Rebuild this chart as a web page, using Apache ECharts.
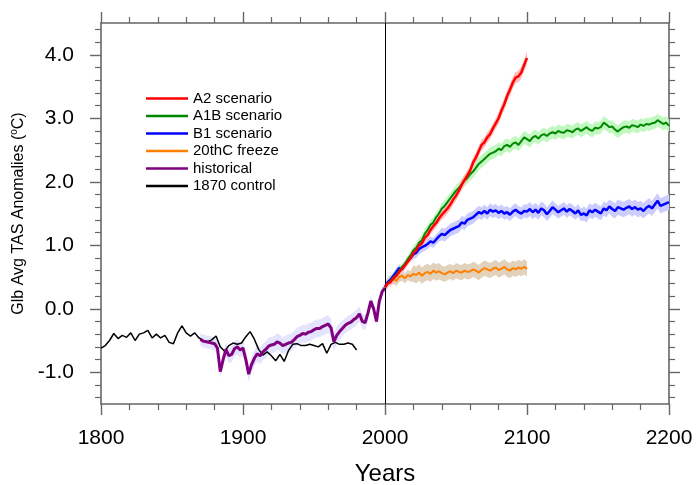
<!DOCTYPE html>
<html>
<head>
<meta charset="utf-8">
<script src="https://cdn.jsdelivr.net/npm/echarts@6/dist/echarts.min.js"></script>
<style>html,body{margin:0;padding:0;background:#fff}#c{width:697px;height:485px}</style>
</head>
<body>
<div id="c"></div>
<script>
// ---- data ----
const xTicks = [1800, 1900, 2000, 2100, 2200];
const yTicks = [-1.0, 0.0, 1.0, 2.0, 3.0, 4.0];
const yMinorTicks = [-1.4,-1.2,-0.8,-0.6,-0.4,-0.2,0.2,0.4,0.6,0.8,1.2,1.4,1.6,1.8,2.2,2.4,2.6,2.8,3.2,3.4,3.6,3.8,4.2,4.4];
const seriesNames = ['A2 scenario', 'A1B scenario', 'B1 scenario', '20thC freeze', 'historical', '1870 control'];

const controlStart = 1800, controlStep = 3;
const controlValues = [-0.62,-0.58,-0.50,-0.39,-0.47,-0.42,-0.45,-0.38,-0.50,-0.40,-0.38,-0.34,-0.46,-0.40,-0.46,-0.42,-0.53,-0.55,-0.38,-0.27,
  -0.38,-0.43,-0.38,-0.46,-0.50,-0.52,-0.49,-0.43,-0.60,-0.67,-0.58,-0.54,-0.56,-0.54,-0.44,-0.36,-0.48,-0.64,-0.73,-0.68,
  -0.74,-0.82,-0.72,-0.83,-0.66,-0.56,-0.55,-0.58,-0.58,-0.56,-0.58,-0.60,-0.55,-0.70,-0.56,-0.53,-0.56,-0.56,-0.54,-0.56,-0.65];

const histStart = 1870, histStep = 2;
const histValues = [-0.48,-0.51,-0.52,-0.53,-0.54,-0.55,-0.62,-0.99,-0.80,-0.64,-0.74,-0.72,-0.63,-0.60,-0.65,-0.62,-0.80,-1.03,-0.88,-0.78,
  -0.71,-0.74,-0.68,-0.64,-0.59,-0.57,-0.56,-0.52,-0.54,-0.58,-0.56,-0.54,-0.53,-0.49,-0.44,-0.42,-0.39,-0.40,-0.37,-0.36,
  -0.33,-0.31,-0.31,-0.28,-0.26,-0.24,-0.30,-0.52,-0.42,-0.36,-0.31,-0.26,-0.23,-0.21,-0.17,-0.14,-0.08,-0.20,-0.22,-0.07,
  0.12,0.00,-0.20,0.12,0.27,0.33];

const projStart = 2000, projStep = 2;
const a2Values = [0.34,0.40,0.42,0.48,0.52,0.58,0.63,0.68,0.74,0.80,0.88,0.92,1.00,1.03,1.12,1.16,1.24,1.30,1.35,1.42,
  1.48,1.53,1.58,1.64,1.72,1.78,1.86,1.95,2.03,2.10,2.18,2.30,2.38,2.48,2.58,2.62,2.70,2.75,2.84,2.92,
  3.00,3.12,3.22,3.35,3.45,3.56,3.64,3.66,3.72,3.84,3.95];
const a1bValues = [0.34,0.40,0.44,0.50,0.53,0.60,0.66,0.70,0.78,0.84,0.92,0.96,1.04,1.08,1.18,1.24,1.32,1.36,1.44,1.50,
  1.58,1.62,1.68,1.74,1.80,1.86,1.90,1.96,2.02,2.06,2.12,2.16,2.22,2.28,2.32,2.36,2.40,2.44,2.46,2.48,
  2.52,2.50,2.56,2.58,2.55,2.60,2.62,2.58,2.64,2.70,2.67,2.64,2.70,2.72,2.68,2.73,2.75,2.72,2.76,2.78,
  2.76,2.80,2.78,2.77,2.81,2.80,2.78,2.82,2.84,2.80,2.83,2.86,2.82,2.80,2.85,2.84,2.86,2.93,2.90,2.86,
  2.87,2.82,2.79,2.83,2.86,2.87,2.85,2.89,2.88,2.86,2.90,2.88,2.91,2.90,2.92,2.93,2.97,2.94,2.91,2.93,2.88];
const b1Values = [0.34,0.42,0.46,0.52,0.58,0.64,0.62,0.70,0.76,0.80,0.86,0.88,0.94,0.97,0.99,1.02,1.06,1.04,1.09,1.14,
  1.18,1.16,1.20,1.24,1.26,1.28,1.30,1.36,1.34,1.40,1.42,1.44,1.48,1.52,1.50,1.54,1.50,1.56,1.53,1.55,
  1.51,1.54,1.50,1.52,1.48,1.53,1.56,1.52,1.50,1.54,1.53,1.57,1.52,1.56,1.51,1.58,1.55,1.49,1.54,1.60,
  1.56,1.52,1.55,1.58,1.53,1.57,1.54,1.50,1.55,1.48,1.50,1.47,1.55,1.52,1.56,1.53,1.50,1.58,1.55,1.61,
  1.57,1.54,1.60,1.58,1.56,1.59,1.61,1.57,1.60,1.56,1.58,1.54,1.59,1.62,1.58,1.64,1.70,1.62,1.64,1.66,1.68];
const freezeValues = [0.34,0.42,0.45,0.47,0.44,0.50,0.52,0.48,0.53,0.51,0.55,0.53,0.57,0.52,0.56,0.58,0.55,0.60,0.57,0.59,
  0.56,0.54,0.57,0.59,0.56,0.60,0.58,0.57,0.60,0.58,0.59,0.62,0.60,0.57,0.61,0.64,0.62,0.60,0.63,0.65,
  0.61,0.63,0.66,0.62,0.60,0.64,0.62,0.65,0.63,0.66,0.63];

// ensemble spread (half width of shading), one value per 20 years
const spreadStep = 20;
const a2Spread = [0.06,0.07,0.08,0.08,0.09,0.10];
const a1bSpread = [0.06,0.08,0.09,0.10,0.10,0.10,0.10,0.10,0.10,0.10,0.10];
const b1Spread = [0.06,0.08,0.10,0.10,0.10,0.11,0.10,0.11,0.12,0.12,0.13];
const freezeSpread = [0.08,0.13,0.12,0.12,0.12,0.12];
const histSpread = [0.10,0.12,0.13,0.14,0.14,0.12,0.08];

// ---- build ----
const FONT = 'Liberation Sans';
function pairs(start, step, vals) { return vals.map((v, i) => [start + i * step, v]); }
function bandPoly(start, step, vals, spread) {
  const up = [], lo = [];
  vals.forEach((v, i) => {
    const s = spread[Math.min(spread.length - 1, Math.floor(i * step / spreadStep))];
    up.push([start + i * step, v + s]);
    lo.push([start + i * step, v - s]);
  });
  return up.concat(lo.reverse());
}
function bandSeries(poly, color) {
  return {
    type: 'custom', silent: true, z: 1,
    data: [poly[0]],
    renderItem: function (params, api) {
      return { type: 'polygon', shape: { points: poly.map(p => api.coord(p)) }, style: { fill: color } };
    }
  };
}
function lineSeries(name, data, color, width, z) {
  return { name: name, type: 'line', data: data, symbol: 'none', showSymbol: false, z: z,
    lineStyle: { color: color, width: width }, itemStyle: { color: color } };
}

const axisCol = '#666';
function xAx(pos, labels) {
  return { type: 'value', position: pos, min: xTicks[0], max: xTicks[xTicks.length - 1], interval: 100,
    axisLine: { show: true, onZero: false, lineStyle: { color: axisCol, width: 1.6 } },
    axisTick: { show: true, inside: false, length: 11, lineStyle: { color: axisCol, width: 1.4 } },
    minorTick: { show: true, splitNumber: 5, length: 6, lineStyle: { color: axisCol, width: 1.2 } },
    splitLine: { show: false }, minorSplitLine: { show: false },
    axisLabel: { show: labels, fontFamily: FONT, fontSize: 21, color: '#000', margin: 24, formatter: v => String(v) },
    name: labels ? 'Years' : '', nameLocation: 'middle', nameGap: 58,
    nameTextStyle: { fontFamily: FONT, fontSize: 24, color: '#000' } };
}
function yAx(pos, labels) {
  return { type: 'value', position: pos, min: -1.5, max: 4.5, interval: 0.5,
    axisLine: { show: true, onZero: false, lineStyle: { color: axisCol, width: 1.6 } },
    axisTick: { show: true, inside: false, length: 11, lineStyle: { color: axisCol, width: 1.4 },
      customValues: yTicks },
    minorTick: { show: false },
    splitLine: { show: false }, minorSplitLine: { show: false },
    axisLabel: { show: labels, fontFamily: FONT, fontSize: 21, color: '#000', margin: 27,
      customValues: yTicks, formatter: v => v.toFixed(1) },
    name: labels ? '{a|Glb Avg TAS Anomalies (}{b|o}{a|C)}' : '', nameLocation: 'middle', nameGap: 65, nameRotate: 90,
    nameTextStyle: { fontFamily: FONT, fontSize: 16, color: '#000',
      rich: { a: { fontFamily: FONT, fontSize: 16, color: '#000', lineHeight: 20 },
              b: { fontFamily: FONT, fontSize: 10, color: '#000', verticalAlign: 'top', lineHeight: 12 } } } };
}
function yMinorAx(pos) {
  return { type: 'value', position: pos, min: -1.5, max: 4.5, interval: 0.5,
    axisLine: { show: false },
    axisTick: { show: true, inside: false, length: 6, lineStyle: { color: axisCol, width: 1.2 },
      customValues: yMinorTicks },
    axisLabel: { show: false }, splitLine: { show: false } };
}

const chart = echarts.init(document.getElementById('c'), null, { renderer: 'canvas' });
const ctrl = lineSeries(seriesNames[5], pairs(controlStart, controlStep, controlValues), '#000000', 1.5, 3);
ctrl.markLine = { silent: true, symbol: 'none', label: { show: false }, animation: false,
  lineStyle: { color: '#000', width: 1, type: 'solid' }, data: [{ xAxis: xTicks[2] }] };

chart.setOption({
  animation: false,
  backgroundColor: '#fff',
  grid: { left: 101, right: 28, top: 23, bottom: 81, outerBoundsMode: 'none', containLabel: false },
  xAxis: [xAx('bottom', true), xAx('top', false)],
  yAxis: [yAx('left', true), yAx('right', false), yMinorAx('left'), yMinorAx('right')],
  legend: { data: seriesNames, orient: 'vertical', left: 141, top: 86, itemWidth: 42, itemHeight: 2.5, itemGap: 2.5,
    icon: 'rect',
    textStyle: { fontFamily: FONT, fontSize: 15, color: '#000', lineHeight: 15 } },
  series: [
    bandSeries(bandPoly(histStart, histStep, histValues, histSpread), '#e4e4ff'),
    bandSeries(bandPoly(projStart, projStep, freezeValues, freezeSpread), '#e2d2bc'),
    bandSeries(bandPoly(projStart, projStep, b1Values, b1Spread), '#ccccff'),
    bandSeries(bandPoly(projStart, projStep, a1bValues, a1bSpread), '#c0f8c0'),
    bandSeries(bandPoly(projStart, projStep, a2Values, a2Spread), '#ffbcbc'),
    ctrl,
    lineSeries(seriesNames[4], pairs(histStart, histStep, histValues), '#800080', 3, 4),
    lineSeries(seriesNames[3], pairs(projStart, projStep, freezeValues), '#ff8000', 2, 5),
    lineSeries(seriesNames[2], pairs(projStart, projStep, b1Values), '#0000ff', 2.5, 6),
    lineSeries(seriesNames[1], pairs(projStart, projStep, a1bValues), '#008800', 2, 7),
    lineSeries(seriesNames[0], pairs(projStart, projStep, a2Values), '#ff0000', 2.5, 8)
  ]
});
</script>
</body>
</html>
